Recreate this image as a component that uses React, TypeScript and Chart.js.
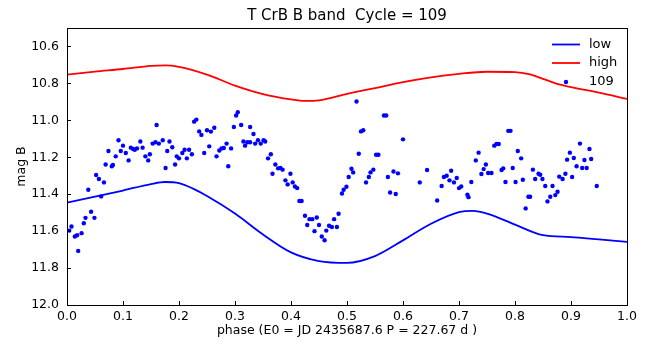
import React, { useEffect, useRef } from 'react';
import { Chart, registerables } from 'chart.js';

Chart.register(...registerables);

// Observations, cycle 109
const phase109 = [
  0.160, 0.092, 0.074, 0.100, 0.096, 0.105, 0.087, 0.110, 0.114, 0.118,
  0.121, 0.125, 0.131, 0.135, 0.140, 0.145, 0.148, 0.153, 0.158, 0.164,
  0.069, 0.080, 0.082, 0.052, 0.057, 0.066, 0.038, 0.061, 0.043, 0.033,
  0.049, 0.030, 0.008, 0.004, 0.014, 0.018, 0.026, 0.020, 0.171, 0.183,
  0.188, 0.179, 0.176, 0.193, 0.196, 0.200, 0.206, 0.210, 0.214, 0.218,
  0.223, 0.227, 0.231, 0.236, 0.240, 0.250, 0.257, 0.263, 0.245, 0.254,
  0.267, 0.272, 0.276, 0.280, 0.285, 0.293, 0.288, 0.298, 0.302, 0.305,
  0.311, 0.315, 0.318, 0.322, 0.327, 0.327, 0.333, 0.336, 0.341, 0.346,
  0.351, 0.354, 0.364, 0.359, 0.367, 0.372, 0.377, 0.381, 0.385, 0.399,
  0.390, 0.394, 0.403, 0.407, 0.411, 0.415, 0.419, 0.425, 0.429, 0.433,
  0.438, 0.446, 0.442, 0.450, 0.455, 0.460, 0.463, 0.468, 0.473, 0.477,
  0.482, 0.485, 0.517, 0.566, 0.570, 0.525, 0.529, 0.600, 0.521, 0.552,
  0.556, 0.508, 0.511, 0.503, 0.547, 0.542, 0.539, 0.534, 0.499, 0.494,
  0.491, 0.583, 0.591, 0.573, 0.577, 0.587, 0.643, 0.630, 0.673, 0.669,
  0.661, 0.678, 0.686, 0.683, 0.691, 0.696, 0.700, 0.704, 0.715, 0.717,
  0.722, 0.730, 0.735, 0.740, 0.744, 0.748, 0.752, 0.758, 0.763, 0.767,
  0.771, 0.776, 0.779, 0.788, 0.792, 0.783, 0.796, 0.801, 0.805, 0.811,
  0.814, 0.832, 0.836, 0.824, 0.827, 0.819, 0.842, 0.845, 0.849, 0.854,
  0.858, 0.863, 0.867, 0.872, 0.876, 0.879, 0.885, 0.890, 0.893, 0.898,
  0.902, 0.905, 0.910, 0.916, 0.920, 0.928, 0.924, 0.933, 0.936, 0.946,
];
const mag109 = [
  11.025, 11.108, 11.166, 11.137, 11.166, 11.177, 11.195, 11.217, 11.148, 11.155,
  11.159, 11.152, 11.115, 11.148, 11.195, 11.217, 11.184, 11.126, 11.119, 11.126,
  11.239, 11.249, 11.242, 11.296, 11.318, 11.336, 11.376, 11.412, 11.495, 11.528,
  11.528, 11.557, 11.575, 11.597, 11.629, 11.622, 11.611, 11.707, 11.108, 11.115,
  11.146, 11.166, 11.258, 11.239, 11.195, 11.206, 11.177, 11.159, 11.206, 11.159,
  11.184, 11.007, 10.996, 11.060, 11.079, 11.054, 11.061, 11.040, 11.177, 11.141,
  11.195, 11.163, 11.152, 11.150, 11.126, 11.152, 11.249, 11.036, 10.974, 10.956,
  11.025, 11.115, 11.137, 11.119, 11.119, 11.036, 11.074, 11.126, 11.108, 11.126,
  11.108, 11.115, 11.184, 11.206, 11.289, 11.239, 11.260, 11.258, 11.267, 11.289,
  11.325, 11.347, 11.336, 11.358, 11.367, 11.437, 11.437, 11.517, 11.567, 11.535,
  11.535, 11.526, 11.600, 11.567, 11.629, 11.649, 11.597, 11.571, 11.578, 11.535,
  11.578, 11.506, 10.898, 10.974, 10.974, 11.060, 11.054, 11.103, 11.181, 11.186,
  11.186, 11.262, 11.282, 11.307, 11.267, 11.282, 11.307, 11.336, 11.360, 11.376,
  11.396, 11.277, 11.287, 11.307, 11.391, 11.399, 11.269, 11.336, 11.307, 11.356,
  11.434, 11.300, 11.273, 11.325, 11.336, 11.312, 11.367, 11.358, 11.403, 11.416,
  11.334, 11.217, 11.175, 11.291, 11.264, 11.239, 11.285, 11.285, 11.137, 11.128,
  11.128, 11.269, 11.260, 11.057, 11.057, 11.334, 11.258, 11.334, 11.166, 11.206,
  11.322, 11.267, 11.318, 11.414, 11.414, 11.477, 11.289, 11.295, 11.318, 11.356,
  11.439, 11.414, 11.356, 11.405, 11.387, 11.305, 11.318, 11.289, 11.213, 11.175,
  11.307, 11.204, 11.249, 11.126, 11.258, 11.258, 11.215, 11.155, 11.209, 11.356,
];

// Envelope curves
const lowPhase = [0, 0.05, 0.1, 0.15, 0.175, 0.2, 0.225, 0.25, 0.3, 0.35, 0.4, 0.45, 0.5, 0.55, 0.6, 0.65, 0.7, 0.725, 0.75, 0.8, 0.85, 0.9, 0.95, 1.0];
const lowMag = [11.446, 11.413, 11.38, 11.345, 11.334, 11.34, 11.37, 11.41, 11.505, 11.618, 11.715, 11.762, 11.772, 11.735, 11.65, 11.56, 11.497, 11.49, 11.505, 11.565, 11.622, 11.632, 11.645, 11.658];
const highPhase = [0, 0.05, 0.1, 0.15, 0.175, 0.2, 0.25, 0.3, 0.35, 0.4, 0.425, 0.45, 0.5, 0.55, 0.6, 0.65, 0.7, 0.75, 0.8, 0.825, 0.85, 0.875, 0.9, 0.95, 1.0];
const highMag = [10.752, 10.736, 10.722, 10.705, 10.702, 10.71, 10.752, 10.812, 10.858, 10.887, 10.895, 10.892, 10.857, 10.825, 10.793, 10.767, 10.748, 10.737, 10.739, 10.75, 10.775, 10.803, 10.82, 10.85, 10.884];

const xTicks = [0.0, 0.1, 0.2, 0.3, 0.4, 0.5, 0.6, 0.7, 0.8, 0.9, 1.0];
const yTicks = [10.6, 10.8, 11.0, 11.2, 11.4, 11.6, 11.8, 12.0];

const titleText = 'T CrB B band  Cycle = 109';
const xLabel = 'phase (E0 = JD 2435687.6 P = 227.67 d )';
const yLabel = 'mag B';
const legendLabels = ['low', 'high', '109'];

const FONT = '"DejaVu Sans", sans-serif';
const BLUE = '#0000ff';
const RED = '#ff0000';

export default function App() {
  const ref = useRef<HTMLCanvasElement>(null);

  useEffect(() => {
    document.body.style.margin = '0';
    const canvas = ref.current;
    if (!canvas) return;

    const decor = {
      id: 'decor',
      afterDraw(chart: any) {
        const { ctx, chartArea: a, scales } = chart;
        ctx.save();
        ctx.strokeStyle = '#000';
        ctx.lineWidth = 1;
        ctx.beginPath();
        xTicks.forEach((v) => {
          const x = Math.round(scales.x.getPixelForValue(v)) + 0.5;
          ctx.moveTo(x, a.bottom);
          ctx.lineTo(x, a.bottom - 4);
        });
        yTicks.forEach((v) => {
          const y = Math.round(scales.y.getPixelForValue(v)) + 0.5;
          ctx.moveTo(a.left, y);
          ctx.lineTo(a.left + 4, y);
        });
        ctx.stroke();
        ctx.strokeRect(Math.round(a.left) + 0.5, Math.round(a.top) + 0.5, Math.round(a.right - a.left), Math.round(a.bottom - a.top));

        const cx = (a.left + a.right) / 2;
        ctx.fillStyle = '#000';
        ctx.textAlign = 'center';
        ctx.textBaseline = 'middle';
        ctx.font = `15px ${FONT}`;
        ctx.fillText(titleText, cx, 16);
        ctx.font = `12.5px ${FONT}`;
        ctx.fillText(xLabel, cx, 331);
        ctx.save();
        ctx.translate(22, (a.top + a.bottom) / 2);
        ctx.rotate(-Math.PI / 2);
        ctx.fillText(yLabel, 0, 0);
        ctx.restore();

        // legend
        const lx0 = a.right - 75;
        const lx1 = a.right - 47;
        const tx = a.right - 38;
        const rows = [a.top + 16.5, a.top + 35, a.top + 54];
        ctx.lineWidth = 1.8;
        ctx.strokeStyle = BLUE;
        ctx.beginPath();
        ctx.moveTo(lx0, rows[0]);
        ctx.lineTo(lx1, rows[0]);
        ctx.stroke();
        ctx.strokeStyle = RED;
        ctx.beginPath();
        ctx.moveTo(lx0, rows[1]);
        ctx.lineTo(lx1, rows[1]);
        ctx.stroke();
        ctx.fillStyle = BLUE;
        ctx.beginPath();
        ctx.arc((lx0 + lx1) / 2, rows[2], 2.2, 0, Math.PI * 2);
        ctx.fill();
        ctx.fillStyle = '#000';
        ctx.textAlign = 'left';
        ctx.font = `13px ${FONT}`;
        legendLabels.forEach((t, i) => ctx.fillText(t, tx, rows[i]));
        ctx.restore();
      },
    };

    const chart = new Chart(canvas, {
      type: 'scatter',
      data: {
        datasets: [
          {
            label: legendLabels[2],
            data: phase109.map((p, i) => ({ x: p, y: mag109[i] })),
            showLine: false,
            pointRadius: 2.2,
            pointBackgroundColor: BLUE,
            pointBorderWidth: 0,
            pointBorderColor: BLUE,
          },
          {
            label: legendLabels[0],
            data: lowPhase.map((p, i) => ({ x: p, y: lowMag[i] })),
            showLine: true,
            borderColor: BLUE,
            borderWidth: 1.8,
            pointRadius: 0,
            cubicInterpolationMode: 'monotone',
          },
          {
            label: legendLabels[1],
            data: highPhase.map((p, i) => ({ x: p, y: highMag[i] })),
            showLine: true,
            borderColor: RED,
            borderWidth: 1.8,
            pointRadius: 0,
            cubicInterpolationMode: 'monotone',
          },
        ],
      },
      options: {
        animation: false,
        responsive: false,
        maintainAspectRatio: false,
        layout: { padding: { left: 0, right: 33, top: 28, bottom: 0 } },
        plugins: {
          legend: { display: false },
          title: { display: false },
          tooltip: { enabled: false },
        },
        scales: {
          x: {
            type: 'linear',
            min: 0,
            max: 1,
            grid: { display: false, drawTicks: false },
            border: { display: false },
            afterBuildTicks: (s: any) => { s.ticks = xTicks.map((v) => ({ value: v })); },
            afterFit: (s: any) => { s.height = 41; },
            ticks: {
              color: '#000',
              padding: 4,
              maxRotation: 0,
              autoSkip: false,
              font: { family: FONT, size: 12.5 },
              callback: (v: any) => Number(v).toFixed(1),
            },
          },
          y: {
            type: 'linear',
            min: 10.5,
            max: 12.0,
            reverse: true,
            grid: { display: false, drawTicks: false },
            border: { display: false },
            afterBuildTicks: (s: any) => { s.ticks = yTicks.map((v) => ({ value: v })); },
            afterFit: (s: any) => { s.width = 67; },
            ticks: {
              color: '#000',
              padding: 8,
              autoSkip: false,
              font: { family: FONT, size: 12.5 },
              callback: (v: any) => Number(v).toFixed(1),
            },
          },
        },
      },
      plugins: [decor],
    } as any);

    return () => chart.destroy();
  }, []);

  return (
    <div style={{ position: 'absolute', left: 0, top: 0, width: 660, height: 346 }}>
      <canvas ref={ref} width={660} height={346} style={{ width: 660, height: 346, display: 'block' }} />
    </div>
  );
}
